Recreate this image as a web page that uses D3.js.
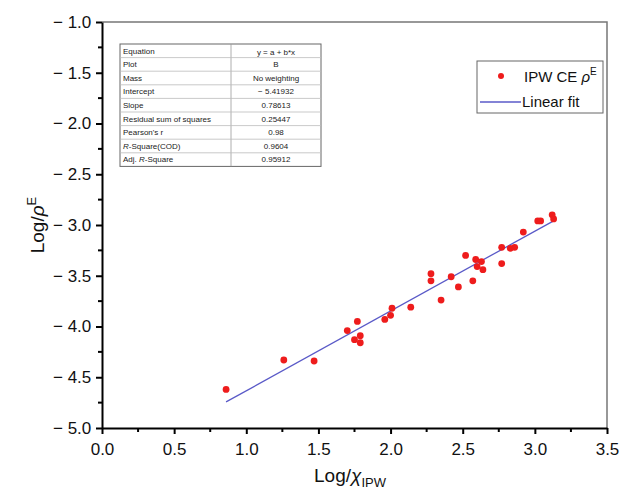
<!DOCTYPE html>
<html lang="en">
<head>
  <meta charset="UTF-8">
  <title>Log rho vs Log chi</title>
  <script src="https://d3js.org/d3.v7.min.js"></script>
  <style>
    body { margin: 0; background: #fff; }
    .axis text { font-family: "Liberation Sans", Arial, sans-serif; font-size: 17px; fill: #111; }
    .axis path, .axis line { stroke: #000; }
    .tbl text { font-family: "Liberation Sans", Arial, sans-serif; font-size: 8px; fill: #222; }
    .lab { font-family: "Liberation Sans", Arial, sans-serif; fill: #111; }
  </style>
</head>
<body>
  <div id="app"></div>
  <script>
    // data
    var logChi = [0.86, 1.26, 1.47, 1.70, 1.77, 1.75, 1.79, 1.79, 1.96, 2.00, 2.01, 2.14,
                  2.35, 2.28, 2.28, 2.42, 2.47, 2.57, 2.52, 2.59, 2.63, 2.60, 2.64, 2.77,
                  2.77, 2.83, 2.86, 2.92, 3.02, 3.04, 3.12, 3.13];
    var logRho = [-4.62, -4.33, -4.34, -4.04, -3.95, -4.13, -4.09, -4.16, -3.93, -3.89, -3.82, -3.81,
                  -3.74, -3.55, -3.48, -3.51, -3.61, -3.55, -3.30, -3.34, -3.36, -3.41, -3.44, -3.38,
                  -3.22, -3.23, -3.22, -3.07, -2.96, -2.96, -2.90, -2.94];
    var fitIntercept = -5.41932;
    var fitSlope = 0.78613;
    var xTicks = [0, 0.5, 1, 1.5, 2, 2.5, 3, 3.5];
    var yTicks = [-1, -1.5, -2, -2.5, -3, -3.5, -4, -4.5, -5];
    var tableNames = ["Equation", "Plot", "Mass", "Intercept", "Slope", "Residual sum of squares",
                      "Pearson's r", "R-Square(COD)", "Adj. R-Square"];
    var tableValues = ["y = a + b*x", "B", "No weighting", "\u2212 5.41932", "0.78613", "0.25447",
                       "0.98", "0.9604", "0.95912"];

    var width = 624, height = 493;
    var margin = { left: 102, top: 22, right: 17, bottom: 65 };

    var svg = d3.select("#app").append("svg")
      .attr("width", width).attr("height", height);

    var x = d3.scaleLinear().domain([0, 3.5]).range([margin.left, width - margin.right]);
    var y = d3.scaleLinear().domain([-5, -1]).range([height - margin.bottom, margin.top]);

    var fmt = function (d) {
      var s = d3.format(".1f")(d);
      return s.charAt(0) === "-" || s.charAt(0) === "\u2212" ? "\u2212 " + s.replace(/^[-\u2212]/, "") : s;
    };

    // frame top/right (gray)
    svg.append("path")
      .attr("d", "M" + x(0) + "," + y(-1) + "H" + x(3.5) + "V" + y(-5))
      .attr("fill", "none").attr("stroke", "#777").attr("stroke-width", 1.5);

    // minor ticks
    var xMinor = d3.range(0.25, 3.5, 0.5);
    var yMinor = d3.range(-1.25, -5, -0.5);
    svg.append("g").selectAll("line").data(xMinor).join("line")
      .attr("x1", d => x(d)).attr("x2", d => x(d))
      .attr("y1", y(-5)).attr("y2", y(-5) + 4)
      .attr("stroke", "#000").attr("stroke-width", 2);
    svg.append("g").selectAll("line").data(yMinor).join("line")
      .attr("x1", x(0)).attr("x2", x(0) - 4)
      .attr("y1", d => y(d)).attr("y2", d => y(d))
      .attr("stroke", "#000").attr("stroke-width", 2);

    // axes
    var xAxis = svg.append("g").attr("class", "axis")
      .attr("transform", "translate(0," + y(-5) + ")")
      .call(d3.axisBottom(x).tickValues(xTicks).tickFormat(fmt).tickSize(6).tickSizeOuter(0));
    var yAxis = svg.append("g").attr("class", "axis")
      .attr("transform", "translate(" + x(0) + ",0)")
      .call(d3.axisLeft(y).tickValues(yTicks).tickFormat(fmt).tickSize(6).tickSizeOuter(0));
    svg.selectAll(".axis path").attr("stroke-width", 2);
    svg.selectAll(".axis line").attr("stroke-width", 2);
    xAxis.selectAll("text").attr("dy", "1.05em");
    yAxis.selectAll("text").attr("dx", "-0.1em");
    xAxis.attr("font-family", null).attr("font-size", null);
    yAxis.attr("font-family", null).attr("font-size", null);

    // fit line
    var xs = d3.extent(logChi);
    svg.append("line")
      .attr("x1", x(xs[0])).attr("y1", y(fitIntercept + fitSlope * xs[0]))
      .attr("x2", x(xs[1])).attr("y2", y(fitIntercept + fitSlope * xs[1]))
      .attr("stroke", "#5a5ac8").attr("stroke-width", 1.3);

    // points
    svg.append("g").selectAll("circle").data(logChi).join("circle")
      .attr("cx", d => x(d)).attr("cy", (d, i) => y(logRho[i]))
      .attr("r", 3.4).attr("fill", "#ee1c1c");

    // results table
    var tb = svg.append("g").attr("class", "tbl");
    var tx0 = 120, tx1 = 231, tx2 = 321, ty0 = 44, rowH = 13.6;
    tb.append("rect").attr("x", tx0).attr("y", ty0).attr("width", tx2 - tx0)
      .attr("height", rowH * tableNames.length)
      .attr("fill", "#fff").attr("stroke", "#666").attr("stroke-width", 1);
    tb.append("line").attr("x1", tx1).attr("x2", tx1).attr("y1", ty0).attr("y2", ty0 + rowH * tableNames.length)
      .attr("stroke", "#999").attr("stroke-width", 0.8);
    tb.selectAll(".rl").data(tableNames.slice(1)).join("line")
      .attr("x1", tx0).attr("x2", tx2)
      .attr("y1", (d, i) => ty0 + rowH * (i + 1)).attr("y2", (d, i) => ty0 + rowH * (i + 1))
      .attr("stroke", "#bbb").attr("stroke-width", 0.8);
    tb.selectAll(".nm").data(tableNames).join("text")
      .attr("x", tx0 + 3).attr("y", (d, i) => ty0 + rowH * i + 9.5)
      .each(function (d) {
        var t = d3.select(this);
        if (d.indexOf("R-Square") >= 0) {
          var pre = d.slice(0, d.indexOf("R-Square"));
          if (pre) t.append("tspan").text(pre);
          t.append("tspan").attr("font-style", "italic").text("R");
          t.append("tspan").text(d.slice(d.indexOf("R-Square") + 1));
        } else t.text(d);
      });
    tb.selectAll(".vl").data(tableValues).join("text")
      .attr("x", (tx1 + tx2) / 2).attr("y", (d, i) => ty0 + rowH * i + (i === 0 ? 10.5 : 9.5))
      .attr("text-anchor", "middle").text(d => d);

    // legend
    var lg = svg.append("g");
    lg.append("rect").attr("x", 477).attr("y", 61).attr("width", 126).attr("height", 52)
      .attr("fill", "#fff").attr("stroke", "#666").attr("stroke-width", 1);
    lg.append("circle").attr("cx", 501).attr("cy", 76).attr("r", 3).attr("fill", "#ee1c1c");
    var lt = lg.append("text").attr("class", "lab").attr("x", 524).attr("y", 82).attr("font-size", 15);
    lt.append("tspan").text("IPW CE ");
    lt.append("tspan").attr("font-style", "italic").text("\u03c1");
    lt.append("tspan").attr("font-size", 10).attr("dy", -7).text("E");
    lg.append("line").attr("x1", 480).attr("x2", 521).attr("y1", 102).attr("y2", 102)
      .attr("stroke", "#5a5ac8").attr("stroke-width", 1.3);
    lg.append("text").attr("class", "lab").attr("x", 522).attr("y", 107).attr("font-size", 15).text("Linear fit");

    // axis titles
    var xl = svg.append("text").attr("class", "lab").attr("x", 350).attr("y", 482)
      .attr("text-anchor", "middle").attr("font-size", 19);
    xl.append("tspan").text("Log/");
    xl.append("tspan").attr("font-style", "italic").text("\u03c7");
    xl.append("tspan").attr("font-size", 13).attr("dy", 5).text("IPW");

    var yl = svg.append("text").attr("class", "lab")
      .attr("transform", "translate(44," + y(-3) + ") rotate(-90)")
      .attr("text-anchor", "middle").attr("font-size", 19);
    yl.append("tspan").text("Log/");
    yl.append("tspan").attr("font-style", "italic").text("\u03c1");
    yl.append("tspan").attr("font-size", 13).attr("dy", -8).text("E");
  </script>
</body>
</html>
